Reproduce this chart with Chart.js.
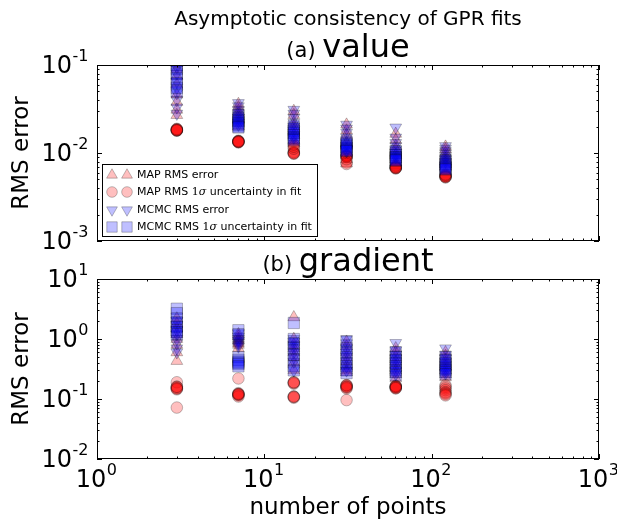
<!DOCTYPE html>
<html><head><meta charset="utf-8">
<script src="https://cdn.jsdelivr.net/npm/chart.js@4"></script>
<style>
html,body{margin:0;padding:0;background:#fff;}
#wrap{position:relative;width:617px;height:520px;overflow:hidden;background:#fff;}
canvas{position:absolute;left:0;}
</style></head><body>
<div id="wrap">
<canvas id="c1" width="617" height="250" style="top:0px"></canvas>
<canvas id="c2" width="617" height="280" style="top:240px"></canvas>
</div>
<script>
// ---------------- DATA ----------------
const nPoints = [3, 7, 15, 31, 61, 121];
const xTickExps = [0, 1, 2, 3];
const valueYTickExps = [-3, -2, -1];
const gradYTickExps = [-2, -1, 0, 1];
const seriesLabels = ['MAP RMS error', 'MAP RMS 1σ uncertainty in fit', 'MCMC RMS error', 'MCMC RMS 1σ uncertainty in fit'];

// (a) value : one inner list of trial values per number of points
const valueMapErr = [
  [0.105, 0.09, 0.075, 0.06, 0.046, 0.038, 0.031, 0.027],
  [0.036, 0.033, 0.030, 0.028, 0.026, 0.024, 0.022, 0.020],
  [0.030, 0.027, 0.022, 0.020, 0.018, 0.016, 0.014, 0.013],
  [0.021, 0.018, 0.016, 0.013, 0.011, 0.0095, 0.0085, 0.0076],
  [0.0165, 0.014, 0.012, 0.011, 0.0095, 0.0085, 0.0078, 0.0072],
  [0.0118, 0.011, 0.010, 0.0092, 0.0085, 0.0080, 0.0075, 0.0070]
];
const valueMapUnc = [
  [0.0180, 0.0185, 0.0182, 0.0188, 0.0180, 0.0183, 0.0186, 0.0181],
  [0.0133, 0.0136, 0.0135, 0.0138, 0.0134, 0.0136, 0.0132, 0.0135],
  [0.0103, 0.0101, 0.0100, 0.0099, 0.0098, 0.0112, 0.0118, 0.0125],
  [0.0092, 0.0093, 0.0090, 0.0094, 0.0091, 0.0078, 0.0075, 0.0085],
  [0.0068, 0.0069, 0.0067, 0.0070, 0.0068, 0.0072, 0.0069, 0.0067],
  [0.0054, 0.0055, 0.0053, 0.0056, 0.0054, 0.0055, 0.0053, 0.0057]
];
const valueMcmcErr = [
  [0.095, 0.080, 0.065, 0.055, 0.048, 0.040, 0.033, 0.028],
  [0.037, 0.034, 0.031, 0.029, 0.027, 0.025, 0.023, 0.021],
  [0.031, 0.028, 0.025, 0.022, 0.020, 0.018, 0.016, 0.015],
  [0.021, 0.019, 0.017, 0.015, 0.013, 0.012, 0.011, 0.0105],
  [0.0195, 0.015, 0.013, 0.012, 0.011, 0.010, 0.0095, 0.0090],
  [0.0120, 0.0112, 0.0105, 0.0098, 0.0092, 0.0088, 0.0085, 0.0080]
];
const valueMcmcUnc = [
  [0.11, 0.10, 0.090, 0.080, 0.070, 0.062, 0.055, 0.050],
  [0.027, 0.025, 0.024, 0.023, 0.022, 0.021, 0.020, 0.0195],
  [0.020, 0.019, 0.018, 0.017, 0.016, 0.015, 0.0145, 0.014],
  [0.0135, 0.013, 0.0125, 0.012, 0.0115, 0.011, 0.0107, 0.0105],
  [0.0105, 0.010, 0.0095, 0.0090, 0.0088, 0.0085, 0.0083, 0.0082],
  [0.0082, 0.0078, 0.0075, 0.0072, 0.0070, 0.0068, 0.0066, 0.0065]
];

// (b) gradient
const gradMapErr = [
  [2.2, 1.8, 1.5, 1.2, 1.0, 0.8, 0.6, 0.43],
  [1.2, 1.1, 1.0, 0.95, 0.9, 0.85, 0.8, 0.7],
  [2.3, 1.0, 0.8, 0.7, 0.6, 0.5, 0.4, 0.3],
  [0.9, 0.75, 0.6, 0.5, 0.42, 0.35, 0.3, 0.28],
  [0.7, 0.6, 0.5, 0.42, 0.36, 0.3, 0.26, 0.22],
  [0.6, 0.52, 0.45, 0.4, 0.35, 0.3, 0.26, 0.23]
];
const gradMapUnc = [
  [0.19, 0.16, 0.155, 0.15, 0.145, 0.15, 0.16, 0.072],
  [0.22, 0.125, 0.12, 0.115, 0.12, 0.11, 0.118, 0.122],
  [0.19, 0.18, 0.185, 0.11, 0.105, 0.11, 0.108, 0.19],
  [0.17, 0.165, 0.16, 0.155, 0.15, 0.17, 0.16, 0.096],
  [0.165, 0.16, 0.155, 0.15, 0.16, 0.165, 0.158, 0.152],
  [0.17, 0.16, 0.15, 0.14, 0.13, 0.125, 0.12, 0.115]
];
const gradMcmcErr = [
  [2.0, 1.7, 1.4, 1.2, 1.0, 0.85, 0.7, 0.6],
  [1.25, 1.1, 1.0, 0.95, 0.9, 0.85, 0.8, 0.75],
  [1.0, 0.9, 0.8, 0.7, 0.6, 0.5, 0.42, 0.3],
  [1.0, 0.85, 0.7, 0.6, 0.5, 0.42, 0.35, 0.3],
  [0.86, 0.65, 0.55, 0.48, 0.42, 0.36, 0.3, 0.26],
  [0.7, 0.55, 0.48, 0.42, 0.37, 0.33, 0.3, 0.27]
];
const gradMcmcUnc = [
  [3.2, 2.7, 2.2, 1.9, 1.6, 1.4, 1.3, 1.2],
  [1.4, 1.2, 0.5, 0.45, 0.42, 0.4, 0.38, 0.35],
  [1.85, 1.0, 0.85, 0.7, 0.55, 0.45, 0.35, 0.3],
  [0.9, 0.7, 0.6, 0.5, 0.4, 0.35, 0.3, 0.27],
  [0.6, 0.5, 0.45, 0.4, 0.35, 0.3, 0.28, 0.25],
  [0.5, 0.45, 0.4, 0.36, 0.32, 0.3, 0.28, 0.26]
];

// ---------------- STYLE ----------------
const RED = 'rgba(255,0,0,0.25)';
const BLUE = 'rgba(0,0,255,0.25)';
const EDGE = 'rgba(0,0,0,0.25)';
const markerStyles = [
  {pointStyle: 'triangle', rotation: 0, radius: 6.8, fill: RED},
  {pointStyle: 'circle', rotation: 0, radius: 5.8, fill: RED},
  {pointStyle: 'triangle', rotation: 180, radius: 6.8, fill: BLUE},
  {pointStyle: 'rect', rotation: 0, radius: 8.0, fill: BLUE}
];

function toPoints(cols) {
  const pts = [];
  cols.forEach((vals, i) => vals.forEach(v => pts.push({x: nPoints[i], y: v})));
  return pts;
}
function makeDatasets(series) {
  return series.map((cols, k) => ({
    label: seriesLabels[k],
    data: toPoints(cols),
    pointStyle: markerStyles[k].pointStyle,
    rotation: markerStyles[k].rotation,
    pointRadius: markerStyles[k].radius,
    pointHoverRadius: markerStyles[k].radius,
    backgroundColor: markerStyles[k].fill,
    borderColor: EDGE,
    pointBorderWidth: 1,
    borderWidth: 1,
    showLine: false,
    clip: 0,
    order: 4 - k
  }));
}

const FONT = '"DejaVu Sans", sans-serif';
const SERIF = '"DejaVu Serif", serif';

function drawPow(ctx, x, y, exp, align) {
  const base = '10', sup = String(exp);
  ctx.font = '24px ' + FONT;
  const wb = ctx.measureText(base).width;
  ctx.font = '16px ' + FONT;
  const ws = ctx.measureText(sup).width;
  const total = wb + ws;
  let sx = align === 'right' ? x - total : x - total / 2;
  ctx.textAlign = 'left';
  ctx.textBaseline = 'alphabetic';
  ctx.fillStyle = '#000';
  ctx.font = '24px ' + FONT;
  ctx.fillText(base, sx, y);
  ctx.font = '16px ' + FONT;
  ctx.fillText(sup, sx + wb + 0.5, y - 12);
}

function drawMarker(ctx, st, x, y, scale) {
  ctx.save();
  ctx.fillStyle = st.fill;
  ctx.strokeStyle = EDGE;
  ctx.lineWidth = 1;
  ctx.beginPath();
  const r = st.radius * scale;
  if (st.pointStyle === 'circle') {
    ctx.arc(x, y, r, 0, Math.PI * 2);
  } else if (st.pointStyle === 'rect') {
    const s = Math.SQRT1_2 * r;
    ctx.rect(x - s, y - s, 2 * s, 2 * s);
  } else {
    let a = st.rotation * Math.PI / 180;
    for (let i = 0; i < 3; i++) {
      const px = x + Math.sin(a) * r, py = y - Math.cos(a) * r;
      if (i === 0) ctx.moveTo(px, py); else ctx.lineTo(px, py);
      a += 2 * Math.PI / 3;
    }
    ctx.closePath();
  }
  ctx.fill();
  ctx.stroke();
  ctx.restore();
}

const decor = {
  id: 'decor',
  afterDraw(chart, args, o) {
    const ctx = chart.ctx;
    const ca = chart.chartArea;
    const xs = chart.scales.x, ys = chart.scales.y;
    ctx.save();
    // ticks (inward, all four sides)
    ctx.strokeStyle = '#000';
    ctx.lineWidth = 1;
    ctx.beginPath();
    const xMaxE = xTickExps[xTickExps.length - 1];
    for (let e = xTickExps[0]; e <= xMaxE; e++) {
      for (let m = 1; m <= 9; m++) {
        if (e === xMaxE && m > 1) continue;
        const v = m * Math.pow(10, e);
        const px = Math.round(xs.getPixelForValue(v)) + 0.5;
        const L = m === 1 ? 5 : 2.5;
        ctx.moveTo(px, ca.bottom); ctx.lineTo(px, ca.bottom - L);
        ctx.moveTo(px, ca.top); ctx.lineTo(px, ca.top + L);
      }
    }
    const yt = o.yTicks;
    const yMaxE = yt[yt.length - 1];
    for (let e = yt[0]; e <= yMaxE; e++) {
      for (let m = 1; m <= 9; m++) {
        if (e === yMaxE && m > 1) continue;
        const v = m * Math.pow(10, e);
        const py = Math.round(ys.getPixelForValue(v)) + 0.5;
        const L = m === 1 ? 5 : 2.5;
        ctx.moveTo(ca.left, py); ctx.lineTo(ca.left + L, py);
        ctx.moveTo(ca.right, py); ctx.lineTo(ca.right - L, py);
      }
    }
    ctx.stroke();
    // frame
    ctx.strokeRect(ca.left + 0.5, ca.top + 0.5, ca.right - ca.left - 1, ca.bottom - ca.top - 1);

    // y tick labels
    yt.forEach(e => drawPow(ctx, ca.left - 9, ys.getPixelForValue(Math.pow(10, e)) + 8, e, 'right'));
    // x tick labels
    if (o.xLabels) {
      xTickExps.forEach(e => drawPow(ctx, xs.getPixelForValue(Math.pow(10, e)) - 1, ca.bottom + 28, e, 'center'));
      ctx.font = '23px ' + FONT;
      ctx.textAlign = 'center';
      ctx.textBaseline = 'alphabetic';
      ctx.fillStyle = '#000';
      ctx.fillText(o.xTitle, (ca.left + ca.right) / 2, ca.bottom + 55);
    }
    // y title
    ctx.save();
    ctx.translate(28, (ca.top + ca.bottom) / 2);
    ctx.rotate(-Math.PI / 2);
    ctx.font = '23px ' + FONT;
    ctx.textAlign = 'center';
    ctx.textBaseline = 'alphabetic';
    ctx.fillStyle = '#000';
    ctx.fillText(o.yTitle, 0, 0);
    ctx.restore();
    // titles
    ctx.fillStyle = '#000';
    ctx.textBaseline = 'alphabetic';
    if (o.title) {
      ctx.font = '20px ' + FONT;
      ctx.textAlign = 'center';
      ctx.fillText(o.title, (ca.left + ca.right) / 2, o.titleY);
    }
    if (o.sub) {
      ctx.font = '21px ' + FONT;
      const w1 = ctx.measureText(o.sub[0] + ' ').width;
      ctx.font = '32px ' + FONT;
      const w2 = ctx.measureText(o.sub[1]).width;
      const sx = (ca.left + ca.right) / 2 - (w1 + w2) / 2;
      ctx.textAlign = 'left';
      ctx.font = '21px ' + FONT;
      ctx.fillText(o.sub[0] + ' ', sx, ca.top - 8);
      ctx.font = '32px ' + FONT;
      ctx.fillText(o.sub[1], sx + w1, ca.top - 8);
    }
    // legend
    if (o.legend) {
      const lx = ca.left + 5, ly = ca.top + 99, lw = 216, lh = 73;
      ctx.fillStyle = '#fff';
      ctx.fillRect(lx, ly, lw, lh);
      ctx.strokeStyle = '#000';
      ctx.lineWidth = 1;
      ctx.strokeRect(lx + 0.5, ly + 0.5, lw - 1, lh - 1);
      const rowsY = [11, 28, 46, 63];
      seriesLabels.forEach((lab, k) => {
        const y = ly + rowsY[k];
        drawMarker(ctx, markerStyles[k], lx + 10, y, 0.92);
        drawMarker(ctx, markerStyles[k], lx + 25, y, 0.92);
        ctx.fillStyle = '#000';
        ctx.textBaseline = 'middle';
        ctx.textAlign = 'left';
        let tx = lx + 35;
        const parts = lab.split('1σ');
        ctx.font = '11px ' + FONT;
        ctx.fillText(parts[0], tx, y);
        tx += ctx.measureText(parts[0]).width;
        if (parts.length > 1) {
          ctx.font = '11px ' + SERIF;
          ctx.fillText('1', tx, y);
          tx += ctx.measureText('1').width;
          ctx.font = 'italic 11px ' + SERIF;
          ctx.fillText('σ', tx, y);
          tx += ctx.measureText('σ').width;
          ctx.font = '11px ' + FONT;
          ctx.fillText(parts[1], tx, y);
        }
      });
    }
    ctx.restore();
  }
};

function makeChart(id, series, yMinExp, yMaxExp, pad, decorOpts) {
  return new Chart(document.getElementById(id), {
    type: 'scatter',
    data: {datasets: makeDatasets(series)},
    options: {
      responsive: false,
      animation: false,
      events: [],
      devicePixelRatio: 1,
      layout: {padding: pad},
      scales: {
        x: {
          type: 'logarithmic',
          min: Math.pow(10, xTickExps[0]),
          max: Math.pow(10, xTickExps[xTickExps.length - 1]),
          ticks: {display: false},
          grid: {display: false},
          border: {display: false},
          afterFit(s) { s.height = 0; }
        },
        y: {
          type: 'logarithmic',
          min: Math.pow(10, yMinExp),
          max: Math.pow(10, yMaxExp),
          ticks: {display: false},
          grid: {display: false},
          border: {display: false},
          afterFit(s) { s.width = 0; }
        }
      },
      plugins: {
        legend: {display: false},
        tooltip: {enabled: false},
        decor: decorOpts
      }
    },
    plugins: [decor]
  });
}

makeChart('c1', [valueMapErr, valueMapUnc, valueMcmcErr, valueMcmcUnc],
  valueYTickExps[0], valueYTickExps[valueYTickExps.length - 1],
  {left: 97, right: 18, top: 65, bottom: 7},
  {yTicks: valueYTickExps, xLabels: false, yTitle: 'RMS error',
   title: 'Asymptotic consistency of GPR fits', titleY: 25,
   sub: ['(a)', 'value'], legend: true});

makeChart('c2', [gradMapErr, gradMapUnc, gradMcmcErr, gradMcmcUnc],
  gradYTickExps[0], gradYTickExps[gradYTickExps.length - 1],
  {left: 97, right: 18, top: 39, bottom: 61},
  {yTicks: gradYTickExps, xLabels: true, xTitle: 'number of points', yTitle: 'RMS error',
   sub: ['(b)', 'gradient'], legend: false});
</script>
</body></html>
